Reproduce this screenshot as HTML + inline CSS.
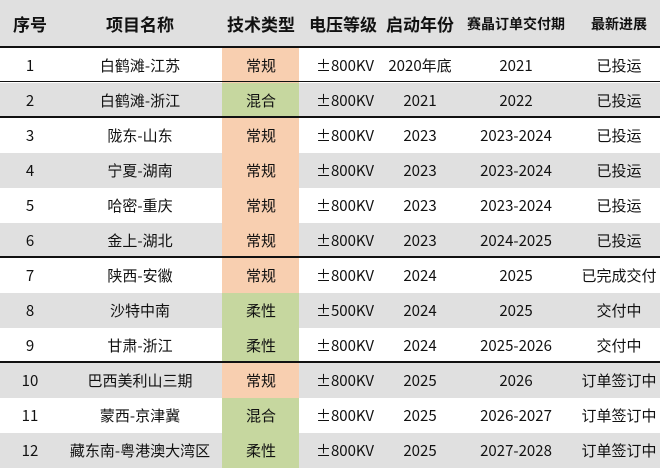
<!DOCTYPE html>
<html><head><meta charset="utf-8"><style>
body{margin:0;width:660px;height:467px;overflow:hidden;background:#fff;font-family:"Noto Sans CJK SC","Liberation Sans",sans-serif;color:#111}
.r{position:absolute;left:0;width:660px;height:35px;display:flex;align-items:center}
.g{background:#e0e0e0}
.c{position:absolute;text-align:center;font-size:15px;line-height:20px;transform:translateX(-50%);white-space:nowrap}
.t{position:absolute;left:222px;width:77px;top:0;height:100%}
.o{background:#f8cfb0}.gr{background:#c6d79f}
.h .c{font-weight:bold;font-size:17px}
.line{position:absolute;left:0;width:660px;background:#111}
</style></head><body>
<div class="r g h" style="top:0;height:47px">
<span class="c" style="left:30px">序号</span><span class="c" style="left:140px">项目名称</span><span class="c" style="left:261px">技术类型</span><span class="c" style="left:343px">电压等级</span><span class="c" style="left:420px">启动年份</span><span class="c" style="left:516px;font-size:14px">赛晶订单交付期</span><span class="c" style="left:619px;font-size:14px">最新进展</span></div>
<div id="rows"></div>
<div class="line" style="top:46px;height:2px"></div>
<div class="line" style="top:81px;height:1px"></div>
<div class="line" style="top:116px;height:2px"></div>
<div class="line" style="top:256px;height:2px"></div>
<div class="line" style="top:361px;height:2px"></div>
<script>
var d=[["1","白鹤滩-江苏","常规","±800KV","2020年底","2021","已投运"],["2","白鹤滩-浙江","混合","±800KV","2021","2022","已投运"],["3","陇东-山东","常规","±800KV","2023","2023-2024","已投运"],["4","宁夏-湖南","常规","±800KV","2023","2023-2024","已投运"],["5","哈密-重庆","常规","±800KV","2023","2023-2024","已投运"],["6","金上-湖北","常规","±800KV","2023","2024-2025","已投运"],["7","陕西-安徽","常规","±800KV","2024","2025","已完成交付"],["8","沙特中南","柔性","±500KV","2024","2025","交付中"],["9","甘肃-浙江","柔性","±800KV","2024","2025-2026","交付中"],["10","巴西美利山三期","常规","±800KV","2025","2026","订单签订中"],["11","蒙西-京津冀","混合","±800KV","2025","2026-2027","订单签订中"],["12","藏东南-粤港澳大湾区","柔性","±800KV","2025","2027-2028","订单签订中"]];
var x=[30,140,261,345,420,516,619],h="";
d.forEach(function(r,i){h+='<div class="r'+(i%2?' g':'')+'" style="top:'+(48+i*35)+'px"><div class="t '+(r[2]=="常规"?"o":"gr")+'"></div>';
r.forEach(function(v,j){h+='<span class="c" style="left:'+x[j]+'px">'+v+'</span>'});h+='</div>'});
document.getElementById('rows').innerHTML=h;
</script>
</body></html>
